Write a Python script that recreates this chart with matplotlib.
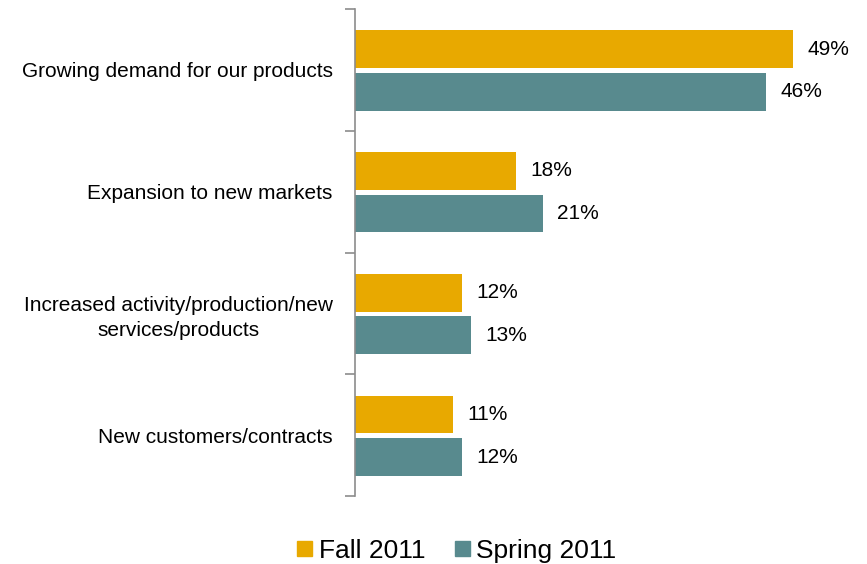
import matplotlib
matplotlib.use("Agg")
import matplotlib.pyplot as plt
from matplotlib.patches import Patch
import numpy as np

plt.rcParams['font.family'] = ['Liberation Sans', 'DejaVu Sans']

categories = ["Growing demand for our products",
              "Expansion to new markets",
              "Increased activity/production/new\nservices/products",
              "New customers/contracts"]
fall_2011 = [49, 18, 12, 11]
spring_2011 = [46, 21, 13, 12]
series_names = ["Fall 2011", "Spring 2011"]
colors = ["#E8A900", "#588A8E"]

fig = plt.figure(figsize=(8.67, 5.64), dpi=100)
ax = fig.add_axes([355/867, 1-496/564, 505/867, (496-9)/564])

n = len(categories)
centers = np.arange(n) + 0.5
h = 0.31
ax.barh(centers - 0.17, fall_2011, height=h, color=colors[0])
ax.barh(centers + 0.18, spring_2011, height=h, color=colors[1])

for c, v in zip(centers - 0.17, fall_2011):
    ax.text(v + 1.6, c, f"{v}%", va="center", ha="left", fontsize=15)
for c, v in zip(centers + 0.18, spring_2011):
    ax.text(v + 1.6, c, f"{v}%", va="center", ha="left", fontsize=15)

ax.set_ylim(n, 0)
ax.set_xlim(0, 56.5)
ax.set_yticks(np.arange(n + 1))
ax.set_yticklabels([])
ax.set_yticks(centers, minor=True)
ax.set_yticklabels(categories, minor=True, fontsize=15, ha="right",
                   multialignment="center", linespacing=1.35)
ax.tick_params(axis="y", which="minor", length=0, pad=16)
ax.tick_params(axis="y", which="major", length=7, color="#8C8C8C", width=1.2)
ax.set_xticks([])
for s in ["top", "right", "bottom"]:
    ax.spines[s].set_visible(False)
ax.spines["left"].set_color("#8C8C8C")
ax.spines["left"].set_linewidth(1.2)

handles = [Patch(color=colors[0]), Patch(color=colors[1])]
fig.legend(handles, series_names, loc="lower center", bbox_to_anchor=(457/867, -0.04),
           ncol=2, frameon=False, fontsize=19, handlelength=0.55, handleheight=0.55,
           handletextpad=0.25, columnspacing=1.15)

fig.savefig("out.png", dpi=100)
